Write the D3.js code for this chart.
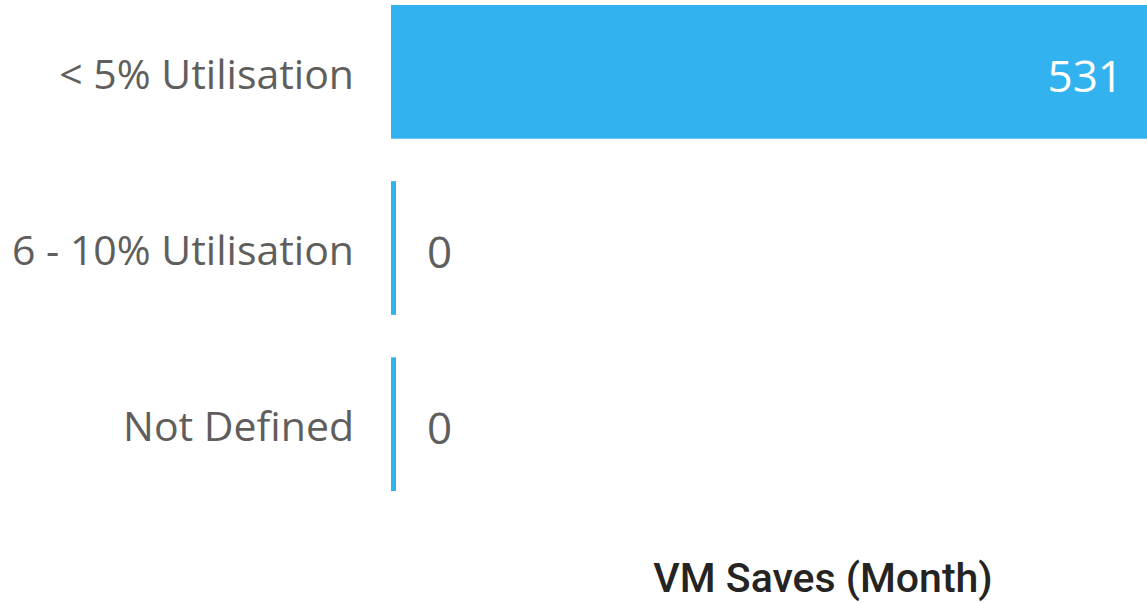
<!DOCTYPE html>
<html>
<head>
<meta charset="utf-8">
<script src="https://cdn.jsdelivr.net/npm/d3@7"></script>
<style>
    body { margin: 0; background: #fff; }
    svg { display: block; }
</style>
</head>
<body>
<div id="chart"></div>
<script>
// chart data
const categories = ["< 5% Utilisation", "6 - 10% Utilisation", "Not Defined"];
const values = [531, 0, 0];
const axis_title = "VM Saves (Month)";

const width = 1147;
const height = 603;
const margin = {top: 5, right: 0, bottom: 112, left: 391};
const bar_color = "#33b2f0";
const min_bar_width = 5;

let svg = d3.select("#chart")
    .append("svg")
    .attr("width", width)
    .attr("height", height);

let x = d3.scaleLinear()
    .domain([0, d3.max(values)])
    .range([margin.left, width - margin.right]);

let y = d3.scaleBand()
    .domain(categories)
    .range([margin.top, height - margin.bottom])
    .paddingInner(0.241)
    .paddingOuter(0);

let rows = categories.map((c, i) => ({cat: c, value: values[i]}));

let bar_w = d => Math.max(x(d.value) - x(0), min_bar_width);

svg.selectAll("rect.bar")
    .data(rows)
    .join("rect")
    .classed("bar", true)
    .attr("x", x(0))
    .attr("y", d => y(d.cat))
    .attr("width", bar_w)
    .attr("height", y.bandwidth())
    .attr("fill", bar_color);

// category labels
svg.selectAll("text.cat")
    .data(rows)
    .join("text")
    .classed("cat", true)
    .attr("x", margin.left - 37)
    .attr("y", d => y(d.cat) + y.bandwidth() / 2)
    .attr("dy", "0.42em")
    .attr("text-anchor", "end")
    .style("font-family", "'Open Sans', 'Noto Sans', sans-serif")
    .style("font-size", "41px")
    .style("fill", "#605e5c")
    .text(d => d.cat);

// data labels: inside end for long bars, outside for short ones
svg.selectAll("text.val")
    .data(rows)
    .join("text")
    .classed("val", true)
    .attr("x", d => {
        let inside = bar_w(d) > 200;
        return inside ? x(0) + bar_w(d) - 24 : x(0) + bar_w(d) + 31;
    })
    .attr("y", d => y(d.cat) + y.bandwidth() / 2)
    .attr("dy", "0.45em")
    .attr("text-anchor", d => bar_w(d) > 200 ? "end" : "start")
    .style("font-family", "'Open Sans', 'Noto Sans', sans-serif")
    .style("font-size", "44px")
    .style("fill", d => bar_w(d) > 200 ? "#ffffff" : "#605e5c")
    .text(d => d.value);

svg.append("text")
    .attr("x", 823)
    .attr("y", 592)
    .attr("text-anchor", "middle")
    .style("font-family", "Roboto, 'DejaVu Sans', sans-serif")
    .style("font-weight", 500)
    .style("font-size", "41px")
    .style("fill", "#252423")
    .text(axis_title);
</script>
</body>
</html>
